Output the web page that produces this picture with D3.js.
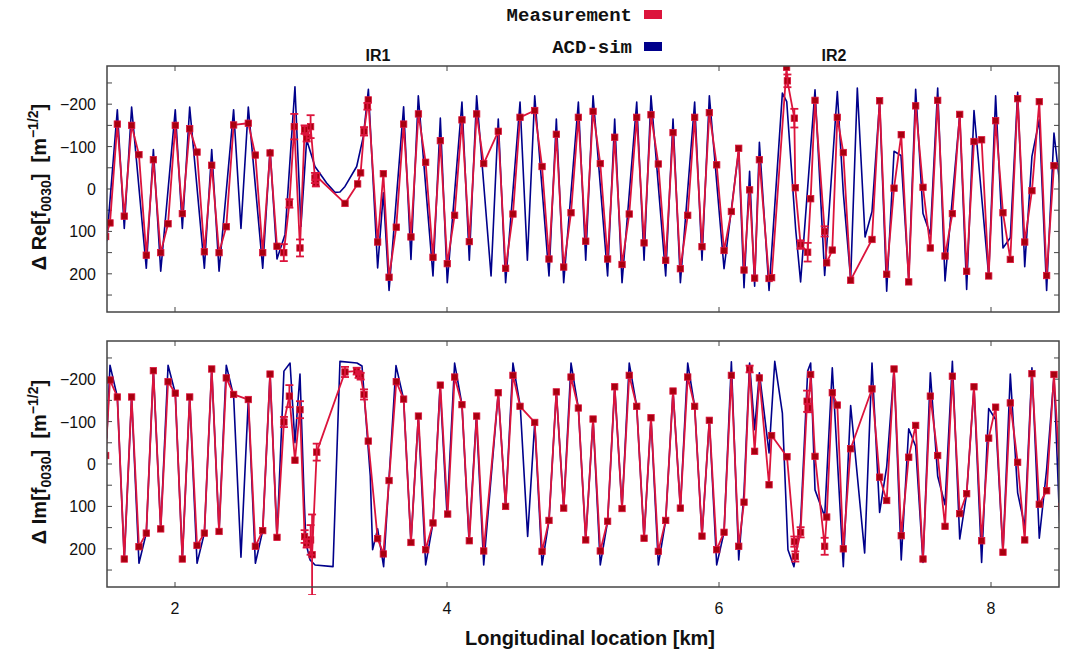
<!DOCTYPE html>
<html><head><meta charset="utf-8">
<script src="https://cdn.jsdelivr.net/npm/d3@7"></script>
<style>body{margin:0;background:#fff}svg{display:block}</style>
</head><body>
<svg id="c" width="1074" height="651"></svg>
<script>
// ---------- DATA ----------
const xTicks = [2, 4, 6, 8];
const yTicksMajor = [-200, -100, 0, 100, 200];
const yTicksMinor = [-250, -150, -50, 50, 150, 250];
const legendLabels = ["Measurement", "ACD-sim"];
const irLabels = ["IR1", "IR2"];

// Re[f0030] measurement
const reMeasKm = [1.49,1.522,1.576,1.627,1.681,1.735,1.789,1.841,1.895,1.949,2.002,2.054,2.108,2.162,2.216,2.27,2.324,2.377,2.431,2.539,2.591,2.645,2.699,2.75,2.80,2.841,2.877,2.919,2.953,2.968,2.997,3.029,3.036,3.04,3.25,3.343,3.365,3.39,3.415,3.421,3.49,3.532,3.574,3.627,3.681,3.735,3.79,3.843,3.897,3.951,4.002,4.056,4.11,4.164,4.218,4.27,4.377,4.431,4.485,4.537,4.645,4.699,4.75,4.804,4.858,4.912,4.966,5.02,5.074,5.127,5.181,5.233,5.287,5.34,5.395,5.449,5.5,5.554,5.608,5.662,5.716,5.77,5.821,5.875,5.929,5.983,6.037,6.091,6.145,6.184,6.225,6.262,6.297,6.368,6.387,6.497,6.503,6.554,6.561,6.6,6.652,6.674,6.706,6.777,6.792,6.833,6.87,6.914,6.968,7.125,7.181,7.233,7.287,7.34,7.395,7.446,7.5,7.554,7.608,7.662,7.716,7.77,7.821,7.875,7.931,7.983,8.034,8.088,8.142,8.196,8.248,8.301,8.355,8.409,8.463,8.52];
const reMeasVal = [112,80,-153,64,-150,-81,156,-69,150,82,-150,58,-142,-87,148,-56,150,89,-151,-155,-80,150,-85,135,150,34,-147,139,-140,-120,-147,-26,-14,-30,34,-12,-38,-136,-195,-210,125,-36,208,90,-153,113,-177,-63,161,-114,176,62,-163,124,-177,-60,-136,187,59,-169,-185,-53,165,-129,184,56,-169,123,-183,-60,165,-122,178,59,-169,127,-175,-59,168,-133,188,62,-169,136,-180,-57,145,53,-96,191,2,210,-69,211,209,-287,-255,-167,-3,131,149,23,-209,100,174,144,-169,-86,215,119,-208,201,-2,-128,219,-196,-4,139,-209,158,58,-176,194,-112,-116,205,-161,56,166,-213,125,4,-206,204,-55,-52];
const reMeasErr = [0,0,0,0,0,0,0,0,0,0,0,0,0,0,0,0,0,0,0,0,0,0,0,0,20,10,30,20,10,8,27,12,8,8,0,0,0,10,8,0,0,0,0,0,0,0,0,0,0,0,0,0,0,0,0,0,0,0,0,0,0,0,0,0,0,0,0,0,0,0,0,0,0,0,0,0,0,0,0,0,0,0,0,0,0,0,0,0,0,0,0,0,0,0,0,0,15,22,0,10,22,0,0,12,0,0,0,0,0,0,0,0,0,0,0,0,0,0,0,0,0,0,0,0,0,0,0,0,0,0,0,0,0,0,0,0,0];

// Re[f0030] ACD simulation
const reSimKm = [1.498,1.576,1.627,1.681,1.789,1.841,1.895,2.002,2.054,2.108,2.216,2.27,2.324,2.431,2.485,2.539,2.645,2.699,2.75,2.809,2.882,2.926,2.968,3.029,3.115,3.176,3.213,3.25,3.336,3.385,3.422,3.49,3.532,3.574,3.681,3.735,3.789,3.897,3.951,4.002,4.11,4.164,4.218,4.324,4.377,4.431,4.537,4.591,4.645,4.75,4.804,4.858,4.966,5.02,5.074,5.181,5.233,5.287,5.395,5.449,5.5,5.608,5.662,5.716,5.821,5.875,5.929,6.037,6.145,6.184,6.225,6.262,6.297,6.368,6.466,6.498,6.564,6.6,6.706,6.777,6.87,6.914,6.968,7.017,7.074,7.125,7.181,7.233,7.287,7.338,7.395,7.446,7.5,7.554,7.608,7.662,7.77,7.821,7.875,7.983,8.034,8.088,8.142,8.196,8.248,8.301,8.355,8.409,8.463,8.505];
const reSimVal = [123,-187,93,-193,187,-93,194,-187,93,-193,187,-93,194,-187,93,-193,187,-93,165,107,-241,88,-116,-53,-14,8,7,-6,-53,-124,-235,186,9,239,-194,166,-220,205,-167,221,-205,168,-220,205,-165,221,-205,168,-220,205,-165,221,-205,168,-220,205,-165,221,-205,168,-220,205,-165,221,-205,168,-220,188,-92,233,-42,229,-110,239,-226,-206,96,219,-234,204,-230,9,213,-238,113,53,-206,241,-89,-79,213,-235,58,107,-238,217,-175,237,-185,205,-220,139,115,-228,183,-77,-163,239,-132,-14];

// Im[f0030] measurement
const imMeasKm = [1.49,1.522,1.576,1.627,1.681,1.735,1.789,1.841,1.895,1.949,2.002,2.054,2.108,2.162,2.216,2.27,2.324,2.377,2.431,2.539,2.591,2.645,2.699,2.75,2.801,2.841,2.882,2.919,2.953,2.968,2.997,3.008,3.042,3.25,3.336,3.35,3.365,3.39,3.421,3.49,3.532,3.574,3.627,3.681,3.735,3.79,3.843,3.897,3.951,4.005,4.056,4.11,4.164,4.218,4.27,4.377,4.431,4.485,4.537,4.645,4.699,4.75,4.804,4.858,4.912,4.966,5.02,5.074,5.127,5.181,5.233,5.287,5.34,5.395,5.449,5.5,5.554,5.608,5.662,5.716,5.77,5.821,5.875,5.929,5.983,6.037,6.091,6.145,6.184,6.225,6.262,6.297,6.368,6.387,6.5,6.554,6.561,6.6,6.648,6.655,6.674,6.706,6.777,6.792,6.833,6.87,6.914,6.968,7.125,7.181,7.233,7.287,7.34,7.395,7.446,7.5,7.554,7.608,7.662,7.716,7.77,7.821,7.875,7.931,7.983,8.034,8.088,8.142,8.196,8.248,8.301,8.355,8.409,8.463,8.52];
const imMeasVal = [-20,-198,-158,224,-158,195,163,-220,153,-194,-167,224,-158,192,163,-224,159,-203,-164,-152,194,157,-212,173,-99,-160,-9,-128,171,187,179,214,-28,-217,-219,-211,-207,-164,-54,176,212,39,-194,-153,185,-113,202,139,-186,118,-205,-140,181,-113,205,-168,100,-209,-136,-98,206,133,-170,104,-205,-132,179,-106,205,135,-182,105,-209,-136,175,-109,206,133,-172,104,-205,-136,170,-103,202,161,-209,194,90,-224,-30,-203,49,-67,-17,183,218,161,-148,-132,-211,-18,194,125,-168,-139,200,-36,-177,31,86,-224,169,-16,-91,224,-160,-20,147,-207,117,70,-182,181,-61,-134,208,-144,-4,179,-213,95,63,-211,100];
const imMeasErr = [0,0,0,0,0,0,0,0,0,0,0,0,0,0,0,0,0,0,0,0,0,0,0,0,12,26,0,20,15,10,35,95,20,12,8,8,8,12,0,0,0,0,0,0,0,0,0,0,0,0,0,0,0,0,0,0,0,0,0,0,0,0,0,0,0,0,0,0,0,0,0,0,0,0,0,0,0,0,0,0,0,0,0,0,0,0,0,0,0,8,0,0,0,0,0,12,12,12,25,10,0,0,20,0,0,0,0,0,0,0,0,0,0,0,0,0,0,0,0,0,0,0,0,0,0,0,0,0,0,0,0,0,0,0,0];

// Im[f0030] ACD simulation
const imSimKm = [1.498,1.522,1.576,1.627,1.681,1.735,1.789,1.841,1.895,1.949,2.002,2.054,2.108,2.162,2.216,2.27,2.324,2.377,2.431,2.485,2.539,2.591,2.645,2.699,2.75,2.801,2.846,2.882,2.919,2.949,2.963,2.993,3.03,3.162,3.213,3.338,3.375,3.436,3.453,3.49,3.534,3.625,3.681,3.735,3.789,3.843,3.897,3.949,4.0,4.056,4.11,4.162,4.216,4.27,4.377,4.431,4.485,4.539,4.593,4.645,4.699,4.75,4.804,4.858,4.912,4.966,5.02,5.074,5.127,5.181,5.233,5.287,5.34,5.395,5.449,5.5,5.554,5.608,5.662,5.716,5.77,5.821,5.875,5.929,5.983,6.037,6.091,6.145,6.184,6.225,6.262,6.297,6.368,6.41,6.466,6.507,6.551,6.6,6.652,6.674,6.706,6.777,6.833,6.914,6.968,7.071,7.125,7.181,7.233,7.287,7.34,7.395,7.446,7.5,7.554,7.608,7.662,7.716,7.77,7.821,7.875,7.931,7.983,8.034,8.088,8.142,8.196,8.248,8.301,8.355,8.409,8.463,8.505];
const imSimVal = [-60,-233,-158,224,-158,234,163,-220,153,-233,-167,224,-158,234,163,-224,159,-233,-160,220,-152,234,157,-212,173,-219,-238,-50,-212,76,187,226,238,242,-242,-238,-231,29,202,153,242,-232,-153,185,-111,238,139,-185,118,-238,-140,181,-111,238,-168,100,-238,-135,171,-98,238,133,-170,104,-238,-132,179,-106,238,135,-182,105,-238,-136,175,-109,238,133,-172,104,-238,-136,170,-103,238,161,-241,226,66,-238,-81,-215,-26,-242,-120,202,242,139,-219,-238,61,124,-227,242,-138,210,-238,114,7,-224,226,-83,-42,232,-215,29,96,-242,177,70,-182,232,-131,-105,208,-212,68,147,-227,175,13,-207,139];

// ---------- LAYOUT ----------
const svg = d3.select("#c");
const X0 = 107, X1 = 1059;
const panels = [
  {top: 66, bottom: 312, mk: reMeasKm, mv: reMeasVal, me: reMeasErr, sk: reSimKm, sv: reSimVal, lab: "Re"},
  {top: 341, bottom: 587, mk: imMeasKm, mv: imMeasVal, me: imMeasErr, sk: imSimKm, sv: imSimVal, lab: "Im"}
];
const x = d3.scaleLinear().domain([1.5, 8.5]).range([X0, X1]);
const RED = "#dc143c", BLUE = "#00008b", FRAME = "#444";
const FONT = "'Liberation Sans', Arial, sans-serif";

panels.forEach((p, pi) => {
  const y = d3.scaleLinear().domain([-290, 290]).range([p.top, p.bottom]);
  const g = svg.append("g");
  g.append("clipPath").attr("id", "clip" + pi).append("rect")
    .attr("x", X0).attr("y", p.top).attr("width", X1 - X0).attr("height", p.bottom - p.top);
  g.append("clipPath").attr("id", "clipe" + pi).append("rect")
    .attr("x", X0).attr("y", p.top).attr("width", X1 - X0).attr("height", p.bottom - p.top + 8);

  const allY = yTicksMajor.concat(yTicksMinor);
  allY.forEach(v => {
    g.append("line").attr("x1", X0).attr("x2", X0 + 5).attr("y1", y(v)).attr("y2", y(v)).attr("stroke", FRAME).attr("stroke-width", 1);
    g.append("line").attr("x1", X1 - 5).attr("x2", X1).attr("y1", y(v)).attr("y2", y(v)).attr("stroke", FRAME).attr("stroke-width", 1);
  });
  xTicks.forEach(v => {
    g.append("line").attr("x1", x(v)).attr("x2", x(v)).attr("y1", p.top).attr("y2", p.top + 5).attr("stroke", FRAME).attr("stroke-width", 1);
    g.append("line").attr("x1", x(v)).attr("x2", x(v)).attr("y1", p.bottom - 5).attr("y2", p.bottom).attr("stroke", FRAME).attr("stroke-width", 1);
  });
  yTicksMajor.forEach(v => {
    g.append("text").attr("x", 96).attr("y", y(v) + 6).attr("text-anchor", "end")
      .attr("font-family", FONT).attr("font-size", 16).attr("fill", "#111")
      .text(v < 0 ? "\u2212" + Math.abs(v) : String(v));
  });

  const plot = g.append("g").attr("clip-path", `url(#clip${pi})`);
  const simData = p.sk.map((k, i) => [k, p.sv[i]]);
  plot.append("path").datum(simData)
    .attr("d", d3.line().x(d => x(d[0])).y(d => y(d[1])))
    .attr("fill", "none").attr("stroke", BLUE).attr("stroke-width", 1.6).attr("stroke-linejoin", "round");
  const measData = p.mk.map((k, i) => [k, p.mv[i], p.me[i]]);
  plot.append("path").datum(measData)
    .attr("d", d3.line().x(d => x(d[0])).y(d => y(d[1])))
    .attr("fill", "none").attr("stroke", RED).attr("stroke-width", 1.8).attr("stroke-linejoin", "round");
  const ebg = g.append("g").attr("clip-path", `url(#clipe${pi})`);
  measData.filter(d => d[2] > 0).forEach(d => {
    const cx = x(d[0]);
    ebg.append("line").attr("x1", cx).attr("x2", cx).attr("y1", y(d[1] - d[2])).attr("y2", y(d[1] + d[2])).attr("stroke", RED).attr("stroke-width", 1.8);
    [d[1] - d[2], d[1] + d[2]].forEach(v => {
      ebg.append("line").attr("x1", cx - 4).attr("x2", cx + 4).attr("y1", y(v)).attr("y2", y(v)).attr("stroke", RED).attr("stroke-width", 1.8);
    });
  });
  plot.selectAll("rect.m").data(measData).enter().append("rect").attr("class", "m")
    .attr("x", d => x(d[0]) - 3.2).attr("y", d => y(d[1]) - 3.2).attr("width", 6.4).attr("height", 6.4)
    .attr("fill", "#a8000f").attr("stroke", RED).attr("stroke-width", 0.8);

  g.append("rect").attr("x", X0).attr("y", p.top).attr("width", X1 - X0).attr("height", p.bottom - p.top)
    .attr("fill", "none").attr("stroke", FRAME).attr("stroke-width", 1.5);

  const cy = (p.top + p.bottom) / 2 - 2;
  const t = g.append("text").attr("transform", `translate(46,${cy}) rotate(-90)`).attr("text-anchor", "middle")
    .attr("font-family", FONT).attr("font-size", 20).attr("font-weight", "bold").attr("fill", "#111")
    .attr("xml:space", "preserve");
  t.append("tspan").text("\u0394 " + p.lab + "[f");
  t.append("tspan").attr("font-size", 14).attr("dy", 5).text("0030");
  t.append("tspan").attr("dy", -5).text("]\u00a0\u00a0[m");
  t.append("tspan").attr("font-size", 14).attr("dy", -8).text("\u22121/2");
  t.append("tspan").attr("dy", 8).text("]");
});

xTicks.forEach(v => {
  svg.append("text").attr("x", x(v)).attr("y", 614).attr("text-anchor", "middle")
    .attr("font-family", FONT).attr("font-size", 16).attr("fill", "#111").text(String(v));
});
svg.append("text").attr("x", (X0 + X1) / 2 + 7).attr("y", 645).attr("text-anchor", "middle")
  .attr("font-family", FONT).attr("font-size", 20).attr("font-weight", "bold").attr("fill", "#111")
  .text("Longitudinal location [km]");

irLabels.forEach((l, i) => {
  svg.append("text").attr("x", i === 0 ? 378 : 834).attr("y", 61).attr("text-anchor", "middle")
    .attr("font-family", FONT).attr("font-size", 16).attr("font-weight", "bold").attr("fill", "#111").text(l);
});

[RED, BLUE].forEach((c, i) => {
  const ly = 21 + i * 32;
  svg.append("text").attr("x", 632).attr("y", ly).attr("text-anchor", "end")
    .attr("font-family", "'Liberation Mono', 'Courier New', monospace").attr("font-size", 19).attr("font-weight", "bold")
    .attr("fill", "#111").text(legendLabels[i]);
  svg.append("rect").attr("x", 644).attr("y", ly - 11).attr("width", 18).attr("height", 9).attr("fill", c);
});
</script>
</body></html>
